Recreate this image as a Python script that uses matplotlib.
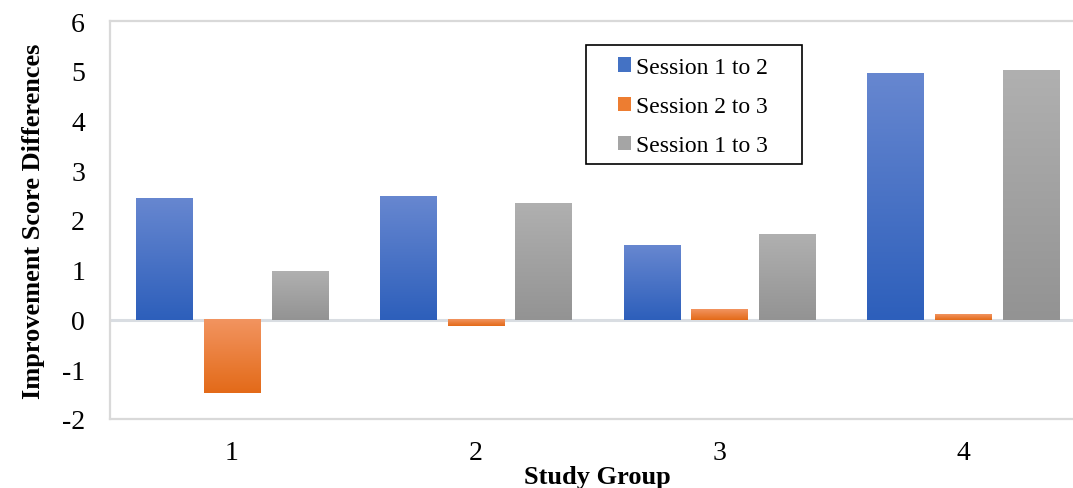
import numpy as np
import matplotlib.pyplot as plt
from matplotlib.colors import LinearSegmentedColormap
from matplotlib.patches import Patch, Rectangle

plt.rcParams['font.family'] = ['Liberation Serif', 'DejaVu Serif']
plt.rcParams['axes.unicode_minus'] = False

groups = ['1', '2', '3', '4']
series = ['Session 1 to 2', 'Session 2 to 3', 'Session 1 to 3']
s12 = [2.45, 2.49, 1.50, 4.95]
s23 = [-1.48, -0.14, 0.21, 0.11]
s13 = [0.98, 2.35, 1.72, 5.01]

# top colour, bottom colour for each series gradient
shades = [('#6787d0', '#2d5fbb'), ('#f29460', '#e36a18'), ('#b0b0b0', '#939393')]
mid = ['#4472c4', '#ed7d31', '#a5a5a5']

W, H = 1073, 489
fig = plt.figure(figsize=(W / 100, H / 100), dpi=100)
ax = fig.add_axes([110 / W, 69 / H, 975 / W, 398 / H])

x = np.arange(len(groups))
step = 0.278
w = 0.23
grad = np.linspace(0, 1, 256).reshape(-1, 1)

for i, vals in enumerate([s12, s23, s13]):
    bars = ax.bar(x + (i - 1) * step, vals, w, color='none', edgecolor='none', zorder=3)
    cmap = LinearSegmentedColormap.from_list('g%d' % i, [shades[i][0], shades[i][1]])
    for b in bars:
        x0, y0 = b.get_x(), b.get_y()
        bw, bh = b.get_width(), b.get_height()
        lo, hi = min(y0, y0 + bh), max(y0, y0 + bh)
        ax.imshow(grad, cmap=cmap, aspect='auto', extent=(x0, x0 + bw, lo, hi),
                  origin='upper', zorder=3, interpolation='bilinear')

ax.set_xlim(-0.5, 3.5)
ax.set_ylim(-2, 6)
ax.set_yticks(range(-2, 7))
ax.set_xticks(x)
ax.set_xticklabels(groups)
ax.axhline(0, color='#d9dde2', lw=2.2, zorder=2)

for s in ax.spines.values():
    s.set_color('#d9d9d9')
    s.set_linewidth(1.6)
ax.tick_params(length=0, labelsize=20, colors='black')
ax.tick_params(axis='y', pad=18)
ax.tick_params(axis='x', pad=15)

ax.set_ylabel('Improvement Score Differences', fontsize=19, fontweight='bold', labelpad=12)
ax.set_xlabel('Study Group', fontsize=19, fontweight='bold', labelpad=0)

# legend entries without frame, box drawn separately for wider side margins
handles = [Patch(facecolor=c, edgecolor='none') for c in mid]
leg = ax.legend(handles, series, loc='center left', bbox_to_anchor=(618 / W, 1 - 107.5 / H),
                bbox_transform=fig.transFigure, borderaxespad=0, borderpad=0, fontsize=17,
                frameon=False, handlelength=0.55, handleheight=0.55, handletextpad=0.22,
                labelspacing=0.77)
leg.set_zorder(5)
fig.add_artist(Rectangle((586 / W, 1 - 165 / H), 216 / W, 119 / H, transform=fig.transFigure,
                         facecolor='none', edgecolor='black', lw=1.2, zorder=4))

fig.savefig('out.png', dpi=100)
